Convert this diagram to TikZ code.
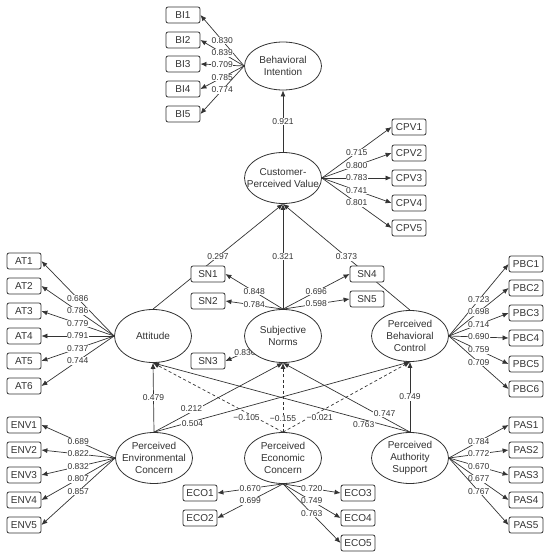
\documentclass[tikz,border=0pt]{standalone}
\usepackage{fontspec}
\setmainfont{Liberation Sans}
\usetikzlibrary{arrows.meta,shapes.geometric,backgrounds}
\colorlet{ink}{black!80}
\tikzset{
    arrow/.style     = {-{Latex[length=6pt,width=5pt]}, line width=0.7pt, draw=ink},
    darrow/.style    = {arrow, dash pattern=on 3pt off 2.5pt},
    latent/.style    = {ellipse, draw=ink, line width=0.8pt, fill=white, minimum width=77pt, minimum height=51pt, inner sep=0pt},
    ltext/.style     = {align=center, text=ink, font=\fontsize{10}{12}\selectfont, inner sep=0pt},
    indicator/.style = {rectangle, rounded corners=2pt, draw=ink, line width=0.8pt, fill=white, minimum width=34pt, minimum height=16pt, inner sep=1pt, text=ink, font=\fontsize{10}{12}\selectfont},
    coef/.style      = {fill=white, inner sep=0.6pt, text=ink, font=\fontsize{8.5}{9}\selectfont}
}

\begin{document}
\begin{tikzpicture}[x=1pt, y=-1pt]

    \useasboundingbox (0,0) rectangle (550,556);

    % =================================================
    % 1. Latent constructs
    % =================================================
    \node[latent, minimum height=48pt] (BI) at (283,66) {};
    \node[ltext] (BIt) at (BI) {Behavioral\\Intention};

    \node[latent] (CPV) at (283,178) {};
    \node[ltext] (CPVt) at (CPV) {Customer-\\Perceived Value};

    \node[latent, minimum height=53pt] (Att) at (153,336) {};
    \node[ltext] (Attt) at (Att) {Attitude};

    \node[latent, minimum height=53pt] (SN) at (283,336) {};
    \node[ltext] (SNt) at (SN) {Subjective\\Norms};

    \node[latent] (PBC) at (410,336) {};
    \node[ltext] (PBCt) at (PBC) {Perceived\\Behavioral\\Control};

    \node[latent] (PEnv) at (154,458) {};
    \node[ltext] (PEnvt) at (PEnv) {Perceived\\Environmental\\Concern};

    \node[latent] (PEco) at (283,458) {};
    \node[ltext] (PEcot) at (PEco) {Perceived\\Economic\\Concern};

    \node[latent] (PAS) at (410,458) {};
    \node[ltext] (PASt) at (PAS) {Perceived\\Authority\\Support};

    % =================================================
    % 2. Indicator boxes
    % =================================================
    % ---------- behavioral intention ----------
    \node[indicator] (BI1) at (183,15)  {BI1};
    \node[indicator] (BI2) at (183,40)  {BI2};
    \node[indicator] (BI3) at (183,64)  {BI3};
    \node[indicator] (BI4) at (183,89)  {BI4};
    \node[indicator] (BI5) at (183,114) {BI5};

    % ---------- customer-perceived value ----------
    \node[indicator] (CPV1) at (409,127) {CPV1};
    \node[indicator] (CPV2) at (409,153) {CPV2};
    \node[indicator] (CPV3) at (409,178) {CPV3};
    \node[indicator] (CPV4) at (409,203) {CPV4};
    \node[indicator] (CPV5) at (409,228) {CPV5};

    % ---------- attitude ----------
    \node[indicator] (AT1) at (24,261) {AT1};
    \node[indicator] (AT2) at (24,286) {AT2};
    \node[indicator] (AT3) at (24,311) {AT3};
    \node[indicator] (AT4) at (24,336) {AT4};
    \node[indicator] (AT5) at (24,361) {AT5};
    \node[indicator] (AT6) at (24,386) {AT6};

    % ---------- subjective norms ----------
    \node[indicator] (SN1) at (208,274) {SN1};
    \node[indicator] (SN2) at (208,301) {SN2};
    \node[indicator] (SN3) at (208,361) {SN3};
    \node[indicator] (SN4) at (367,274) {SN4};
    \node[indicator] (SN5) at (367,299) {SN5};

    % ---------- perceived behavioral control ----------
    \node[indicator] (PBC1) at (526,264) {PBC1};
    \node[indicator] (PBC2) at (526,288) {PBC2};
    \node[indicator] (PBC3) at (526,313) {PBC3};
    \node[indicator] (PBC4) at (526,338) {PBC4};
    \node[indicator] (PBC5) at (526,364) {PBC5};
    \node[indicator] (PBC6) at (526,389) {PBC6};

    % ---------- environmental concern ----------
    \node[indicator] (ENV1) at (24,425) {ENV1};
    \node[indicator] (ENV2) at (24,450) {ENV2};
    \node[indicator] (ENV3) at (24,475) {ENV3};
    \node[indicator] (ENV4) at (24,500) {ENV4};
    \node[indicator] (ENV5) at (24,525) {ENV5};

    % ---------- economic concern ----------
    \node[indicator] (ECO1) at (200,493) {ECO1};
    \node[indicator] (ECO2) at (200,518) {ECO2};
    \node[indicator] (ECO3) at (358,493) {ECO3};
    \node[indicator] (ECO4) at (358,518) {ECO4};
    \node[indicator] (ECO5) at (358,543) {ECO5};

    % ---------- authority support ----------
    \node[indicator] (PAS1) at (526,425) {PAS1};
    \node[indicator] (PAS2) at (526,450) {PAS2};
    \node[indicator] (PAS3) at (526,475) {PAS3};
    \node[indicator] (PAS4) at (526,500) {PAS4};
    \node[indicator] (PAS5) at (526,525) {PAS5};

    % =================================================
    % 3. Paths (kept behind the shapes)
    % =================================================
    \begin{scope}[on background layer]

    % ---------- structural paths ----------
    \draw[arrow] (CPV.north) -- (BI.south) node[coef, pos=0.5] {0.921};

    \draw[arrow] (Att.north) -- (CPV.south) node[coef, pos=0.5] {0.297};
    \draw[arrow] (SN.north)  -- (CPV.south) node[coef, pos=0.5] {0.321};
    \draw[arrow] (PBC.north) -- (CPV.south) node[coef, pos=0.5] {0.373};

    \draw[arrow] (PEnv.north) -- (Att.south) node[coef, pos=0.5] {0.479};
    \draw[arrow] (PEnv.north) -- (SN.south)  node[coef, pos=0.29, yshift=3pt] {0.212};
    \draw[arrow] (PEnv.north) -- (PBC.south) node[coef, pos=0.15, yshift=-2pt] {0.504};

    \draw[darrow] (PEco.north) -- (Att.south) node[coef, pos=0.28, yshift=-5pt] {−0.105};
    \draw[darrow] (PEco.north) -- (SN.south)  node[coef, pos=0.19] {−0.155};
    \draw[darrow] (PEco.north) -- (PBC.south) node[coef, pos=0.29, yshift=-6pt] {−0.021};

    \draw[arrow] (PAS.north) -- (Att.south) node[coef, pos=0.18, yshift=-5pt] {0.763};
    \draw[arrow] (PAS.north) -- (SN.south)  node[coef, pos=0.2, yshift=5pt] {0.747};
    \draw[arrow] (PAS.north) -- (PBC.south) node[coef, pos=0.5] {0.749};

    % ---------- loadings ----------
    \draw[arrow] (BI.west) -- (BI1.east) node[coef, pos=0.5] {0.830};
    \draw[arrow] (BI.west) -- (BI2.east) node[coef, pos=0.5] {0.839};
    \draw[arrow] (BI.west) -- (BI3.east) node[coef, pos=0.5] {0.709};
    \draw[arrow] (BI.west) -- (BI4.east) node[coef, pos=0.5] {0.785};
    \draw[arrow] (BI.west) -- (BI5.east) node[coef, pos=0.5] {0.774};

    \draw[arrow] (CPV.east) -- (CPV1.west) node[coef, pos=0.5] {0.715};
    \draw[arrow] (CPV.east) -- (CPV2.west) node[coef, pos=0.5] {0.800};
    \draw[arrow] (CPV.east) -- (CPV3.west) node[coef, pos=0.5] {0.783};
    \draw[arrow] (CPV.east) -- (CPV4.west) node[coef, pos=0.5] {0.741};
    \draw[arrow] (CPV.east) -- (CPV5.west) node[coef, pos=0.5] {0.801};

    \draw[arrow] (Att.west) -- (AT1.east) node[coef, pos=0.5] {0.686};
    \draw[arrow] (Att.west) -- (AT2.east) node[coef, pos=0.5] {0.786};
    \draw[arrow] (Att.west) -- (AT3.east) node[coef, pos=0.5] {0.779};
    \draw[arrow] (Att.west) -- (AT4.east) node[coef, pos=0.5] {0.791};
    \draw[arrow] (Att.west) -- (AT5.east) node[coef, pos=0.5] {0.737};
    \draw[arrow] (Att.west) -- (AT6.east) node[coef, pos=0.5] {0.744};

    \draw[arrow] (SN.north)  -- (SN1.east) node[coef, pos=0.5] {0.848};
    \draw[arrow] (SN.north)  -- (SN2.east) node[coef, pos=0.5] {0.784};
    \draw[arrow] (SN.center) -- (SN3.east) node[coef, pos=0.66] {0.836};
    \draw[arrow] (SN.north)  -- (SN4.west) node[coef, pos=0.5] {0.696};
    \draw[arrow] (SN.north)  -- (SN5.west) node[coef, pos=0.5] {0.598};

    \draw[arrow] (PBC.east) -- (PBC1.west) node[coef, pos=0.5] {0.723};
    \draw[arrow] (PBC.east) -- (PBC2.west) node[coef, pos=0.5] {0.698};
    \draw[arrow] (PBC.east) -- (PBC3.west) node[coef, pos=0.5] {0.714};
    \draw[arrow] (PBC.east) -- (PBC4.west) node[coef, pos=0.5] {0.690};
    \draw[arrow] (PBC.east) -- (PBC5.west) node[coef, pos=0.5] {0.759};
    \draw[arrow] (PBC.east) -- (PBC6.west) node[coef, pos=0.5] {0.709};

    \draw[arrow] (PEnv.west) -- (ENV1.east) node[coef, pos=0.5] {0.689};
    \draw[arrow] (PEnv.west) -- (ENV2.east) node[coef, pos=0.5] {0.822};
    \draw[arrow] (PEnv.west) -- (ENV3.east) node[coef, pos=0.5] {0.832};
    \draw[arrow] (PEnv.west) -- (ENV4.east) node[coef, pos=0.5] {0.807};
    \draw[arrow] (PEnv.west) -- (ENV5.east) node[coef, pos=0.5] {0.857};

    \draw[arrow] (PEco.south) -- (ECO1.east) node[coef, pos=0.5] {0.670};
    \draw[arrow] (PEco.south) -- (ECO2.east) node[coef, pos=0.5] {0.699};
    \draw[arrow] (PEco.south) -- (ECO3.west) node[coef, pos=0.5] {0.720};
    \draw[arrow] (PEco.south) -- (ECO4.west) node[coef, pos=0.5] {0.749};
    \draw[arrow] (PEco.south) -- (ECO5.west) node[coef, pos=0.5] {0.763};

    \draw[arrow] (PAS.east) -- (PAS1.west) node[coef, pos=0.5] {0.784};
    \draw[arrow] (PAS.east) -- (PAS2.west) node[coef, pos=0.5] {0.772};
    \draw[arrow] (PAS.east) -- (PAS3.west) node[coef, pos=0.5] {0.670};
    \draw[arrow] (PAS.east) -- (PAS4.west) node[coef, pos=0.5] {0.677};
    \draw[arrow] (PAS.east) -- (PAS5.west) node[coef, pos=0.5] {0.767};

    \end{scope}

\end{tikzpicture}
\end{document}
